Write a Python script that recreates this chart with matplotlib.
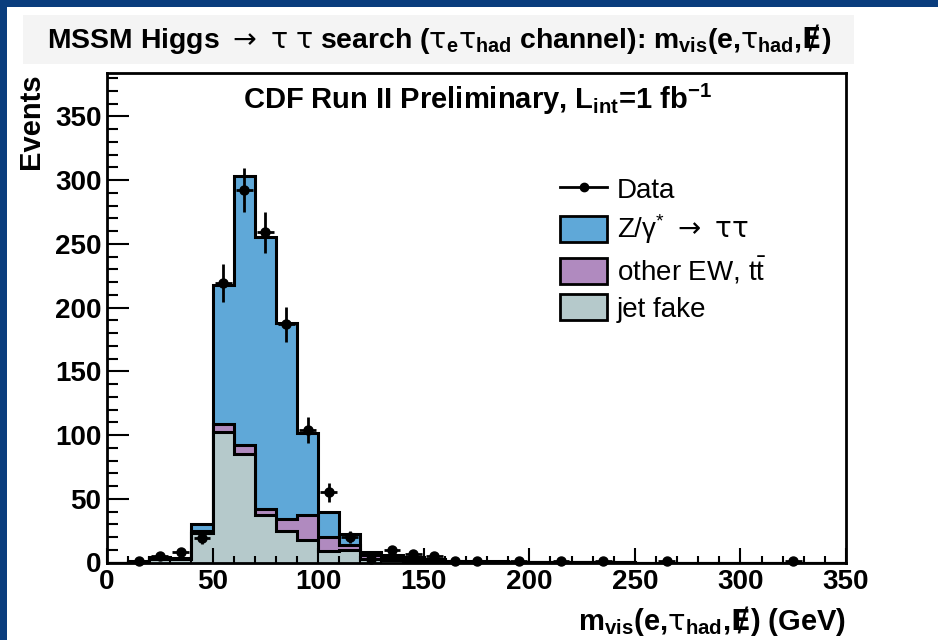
import matplotlib
matplotlib.use('Agg')
import matplotlib.pyplot as plt
import numpy as np
from matplotlib.patches import Rectangle, Patch
from matplotlib.lines import Line2D
from matplotlib.ticker import MultipleLocator

# fonts: Arial-like everywhere, math letters in the text's own font
plt.rcParams['font.family'] = ['Liberation Sans', 'DejaVu Sans']
plt.rcParams['font.weight'] = 'bold'
plt.rcParams['axes.labelweight'] = 'bold'
plt.rcParams['mathtext.fontset'] = 'custom'
plt.rcParams['mathtext.default'] = 'regular'
plt.rcParams['mathtext.rm'] = 'Liberation Sans:regular'
plt.rcParams['mathtext.bf'] = 'Liberation Sans:bold'
plt.rcParams['mathtext.sf'] = 'DejaVu Sans:bold'
plt.rcParams['mathtext.tt'] = 'DejaVu Sans:regular'  # thin greek / arrows like ROOT's Symbol font

# 10 GeV bins, 0-350 GeV
bin_edges = np.arange(0, 360, 10)
jet_fake = [0, 0.5, 3, 2.5, 23, 102, 85, 37.5, 25, 18, 9, 10, 3, 2, 1.5, 1, 0.5,
            0.4, 0.3, 0.2, 0.2, 0.1, 0.1, 0.1, 0, 0, 0, 0, 0, 0, 0, 0, 0, 0, 0]
other_ew = [0, 0, 0.5, 0.5, 1.5, 6.6, 7, 4.5, 9, 19.5, 11, 4, 3, 2, 1.5, 1, 0.5,
            0.3, 0.3, 0.2, 0.2, 0.1, 0.1, 0.1, 0.1, 0, 0, 0, 0, 0, 0, 0, 0, 0, 0]
ztautau = [0, 0.3, 0.5, 0.5, 6, 109.4, 211, 213, 154, 64, 20, 8, 2, 2, 1, 1, 0.5,
           0.3, 0.2, 0.1, 0.1, 0.1, 0, 0, 0, 0, 0, 0, 0, 0, 0, 0, 0, 0, 0]

data_x = [15, 25, 35, 45, 55, 65, 75, 85, 95, 105, 115, 125, 135, 145, 155,
          165, 175, 195, 215, 235, 265, 325]
data_y = [1, 5, 8, 19, 219, 292, 259, 187, 104, 55, 20, 3, 10, 7, 5,
          1, 1, 1, 1, 1, 1, 1]

c_z = '#5fa8d8'
c_ew = '#b08abf'
c_jet = '#b5c9cb'

TAU = r'\mathtt{\tau}'
ARROW = r'\mathtt{\rightarrow}'
MET = r'\mathsf{Ɇ}'

fig = plt.figure(figsize=(9.38, 6.4), dpi=100)
fig.patch.set_facecolor('#0a3d7d')
# white slide area and grey title box
fig.add_artist(Rectangle((7 / 938, 0), 1, 1 - 7 / 640, transform=fig.transFigure,
                         facecolor='white', edgecolor='none', zorder=-10))
fig.add_artist(Rectangle((23 / 938, 1 - 64 / 640), 831 / 938, 49 / 640,
                         transform=fig.transFigure, facecolor='#f4f4f4',
                         edgecolor='none', zorder=-5))

ax = fig.add_axes([107 / 938, 1 - 562.5 / 640, 739 / 938, 489.5 / 640])

# stacked histograms, drawn from the top sum down
jet = np.array(jet_fake)
mid = jet + np.array(other_ew)
total = mid + np.array(ztautau)
ax.stairs(total, bin_edges, fill=True, facecolor=c_z, edgecolor='black', lw=2.2)
ax.stairs(mid, bin_edges, fill=True, facecolor=c_ew, edgecolor='black', lw=2.2)
ax.stairs(jet, bin_edges, fill=True, facecolor=c_jet, edgecolor='black', lw=2.2)

ax.errorbar(data_x, data_y, yerr=np.sqrt(data_y), xerr=4, fmt='o', color='black',
            markersize=6.5, elinewidth=2, capsize=0, zorder=5, clip_on=False)

ax.set_xlim(0, 350)
ax.set_ylim(0, 384)
ax.xaxis.set_major_locator(MultipleLocator(50))
ax.xaxis.set_minor_locator(MultipleLocator(10))
ax.yaxis.set_major_locator(MultipleLocator(50))
ax.yaxis.set_minor_locator(MultipleLocator(10))
ax.tick_params(axis='x', which='major', direction='in', length=10.5, width=1.5,
               pad=5, labelsize=20)
ax.tick_params(axis='x', which='minor', direction='in', length=5.3, width=1.5)
ax.tick_params(axis='y', which='major', direction='in', length=15.8, width=1.5,
               pad=4, labelsize=20)
ax.tick_params(axis='y', which='minor', direction='in', length=8, width=1.5)
for s in ax.spines.values():
    s.set_linewidth(2)

ax.set_xlabel(r"m$_{vis}$(e,$%s_{had}$,$%s$) (GeV)" % (TAU, MET), fontsize=21,
              fontweight='bold', loc='right')
ax.xaxis.set_label_coords(1.0, -0.138)
ax.xaxis.label.set_va('baseline')
ax.set_ylabel('Events', fontsize=21, fontweight='bold', loc='top')
ax.yaxis.set_label_coords(-0.084, 1.0)

ax.text(175.7, 355.7, r"CDF Run II Preliminary, L$_{int}$=1 fb$^{-1}$",
        ha='center', va='baseline', fontsize=21)

fig.text(439 / 938, 1 - 48 / 640,
         r"MSSM Higgs $%s$ $%s$ $%s$ search ($%s_{e}%s_{had}$ channel): "
         r"m$_{vis}$(e,$%s_{had}$,$%s$)" % (ARROW, TAU, TAU, TAU, TAU, TAU, MET),
         ha='center', va='baseline', fontsize=20.4)

handles = [Line2D([], [], color='black', lw=2, marker='o', markersize=6),
           Patch(facecolor=c_z, edgecolor='black', lw=2),
           Patch(facecolor=c_ew, edgecolor='black', lw=2),
           Patch(facecolor=c_jet, edgecolor='black', lw=2)]
labels = ['Data', r'Z/$\gamma^{*}$ $%s$ $%s%s$' % (ARROW, TAU, TAU),
          r'other EW, $t\bar{t}$', 'jet fake']
ax.legend(handles, labels, loc='upper left', bbox_to_anchor=(560 / 938, 1 - 176 / 640),
          bbox_transform=fig.transFigure, frameon=False,
          prop={'size': 20, 'weight': 'normal'}, handlelength=1.7, handleheight=1.05,
          handletextpad=0.35, labelspacing=0.3, borderpad=0, borderaxespad=0)

fig.savefig('out.png', dpi=100, facecolor=fig.get_facecolor())
